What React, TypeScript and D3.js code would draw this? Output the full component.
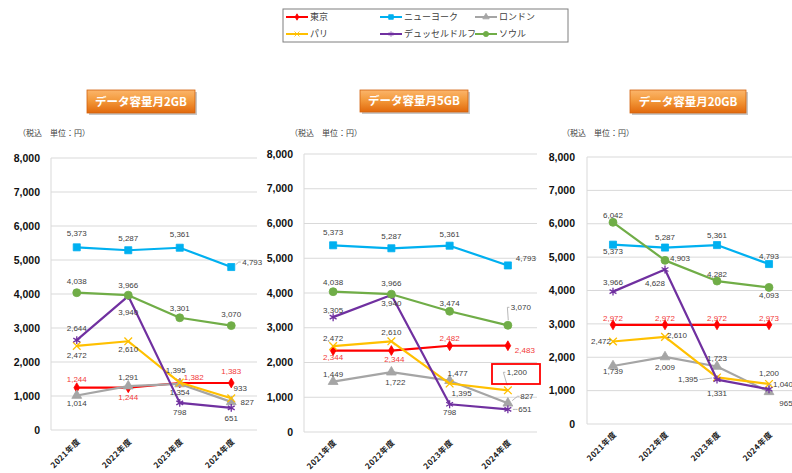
import React from 'react';
import * as d3 from 'd3';

const years = ['2021年度', '2022年度', '2023年度', '2024年度'];
const cities = ['東京', 'ニューヨーク', 'ロンドン', 'パリ', 'デュッセルドルフ', 'ソウル'];
const yTicks = [0, 1000, 2000, 3000, 4000, 5000, 6000, 7000, 8000];
const planTitles = ['データ容量月2GB', 'データ容量月5GB', 'データ容量月20GB'];

// rows follow the cities order
const values2GB = [
  [1244, 1244, 1382, 1383],
  [5373, 5287, 5361, 4793],
  [1014, 1291, 1354, 827],
  [2472, 2610, 1395, 933],
  [2644, 3940, 798, 651],
  [4038, 3966, 3301, 3070],
];
const values5GB = [
  [2344, 2344, 2482, 2483],
  [5373, 5287, 5361, 4793],
  [1449, 1722, 1477, 827],
  [2472, 2610, 1395, 1200],
  [3305, 3940, 798, 651],
  [4038, 3966, 3474, 3070],
];
const values20GB = [
  [2972, 2972, 2972, 2973],
  [5373, 5287, 5361, 4793],
  [1739, 2009, 1723, 965],
  [2472, 2610, 1395, 1200],
  [3966, 4628, 1331, 1040],
  [6042, 4903, 4282, 4093],
];

// series look
const colors = ['#FF0000', '#00B0F0', '#A5A5A5', '#FFC000', '#7030A0', '#70AD47'];
const symbols = [d3.symbolDiamond, d3.symbolSquare, d3.symbolTriangle, d3.symbolTimes, d3.symbolAsterisk, d3.symbolCircle];
const symbolSizes = [28, 50, 42, 40, 44, 50];
const strokeOnly = [false, false, false, true, true, false];

// label placement [dx, dy, leader]
type Off = [number, number, number?];
const labelPos2GB: Off[][] = [
  [[0, -9], [0, 9], [14, -6], [0, -12]],
  [[0, -14], [0, -12], [0, -14], [21, -5, 1]],
  [[0, 8], [0, -9], [0, 8], [16, 0]],
  [[0, 9], [0, 8], [-4, -12], [9, -10]],
  [[0, -12], [0, 16], [0, 9], [0, 10]],
  [[0, -12], [0, -10], [0, -10], [0, -11]],
];
const labelPos5GB: Off[][] = [
  [[0, 7], [3, 9], [0, -8], [17, 4]],
  [[0, -13], [0, -12], [0, -12], [18, -7]],
  [[0, -7], [4, 10], [8, -7], [19, -7, 1]],
  [[0, -8], [0, -9], [12, 10], [9, -18, 1]],
  [[0, -7], [0, 8], [0, 8], [17, 0, 1]],
  [[0, -9], [0, -11], [0, -8], [13, -18, 1]],
];
const labelPos20GB: Off[][] = [
  [[0, -7], [0, -7], [0, -7], [0, -7]],
  [[0, 7], [0, -10], [0, -10], [0, -8]],
  [[0, 5], [0, 10], [0, -8], [17, 11]],
  [[-12, 0], [12, -2], [-29, 2, 1], [0, -11]],
  [[0, -9], [-10, 14], [0, 14], [14, -5, 1]],
  [[0, -7], [15, -2], [0, -7], [0, 8]],
];

const panels = [
  { left: 51, right: 257, top: 158, bottom: 430, yLabelX: 40, title: [87, 90, 108, 23], unitsX: 18, xLabelY: 440, values: values2GB, pos: labelPos2GB },
  { left: 304, right: 537, top: 154, bottom: 432, yLabelX: 293, title: [360, 90, 108, 22], unitsX: 290, xLabelY: 441, values: values5GB, pos: labelPos5GB },
  { left: 587, right: 795, top: 157, bottom: 424, yLabelX: 575, title: [630, 90, 116, 23], unitsX: 562, xLabelY: 433, values: values20GB, pos: labelPos20GB },
];

const numFont = "'Liberation Sans', 'Noto Sans CJK JP', sans-serif";
const jpFont = "'Noto Sans CJK JP', sans-serif";
const fmt = d3.format(',');

function markerPath(i: number) {
  return d3.symbol().type(symbols[i]).size(symbolSizes[i])() || '';
}

function Marker({ i, x, y }: { i: number; x: number; y: number }) {
  return (
    <path
      d={markerPath(i)}
      transform={`translate(${x},${y})`}
      fill={strokeOnly[i] ? 'none' : colors[i]}
      stroke={colors[i]}
      strokeWidth={strokeOnly[i] ? 1.3 : 0.8}
    />
  );
}

function Panel({ p, idx }: { p: typeof panels[number]; idx: number }) {
  const x = d3.scaleBand().domain(years).range([p.left, p.right]);
  const y = d3.scaleLinear().domain([0, 8000]).range([p.bottom, p.top]);
  const cx = (d: string) => (x(d) || 0) + x.bandwidth() / 2;
  const line = d3.line<number>().x((_, j) => cx(years[j])).y((v) => y(v));
  const [tx, ty, tw, th] = p.title;

  return (
    <g>
      {/* title badge */}
      <rect x={tx + 2} y={ty + 2} width={tw} height={th} fill="#000" opacity={0.22} />
      <rect x={tx} y={ty} width={tw} height={th} fill="url(#badge)" stroke="#D2630F" strokeWidth={0.8} />
      <text x={tx + tw / 2} y={ty + th / 2} dy="0.36em" textAnchor="middle" fill="#fff" fontWeight="bold" fontSize={11.5} fontFamily={jpFont}>
        {planTitles[idx]}
      </text>
      <text x={p.unitsX} y={133} dy="0.35em" fontSize={8} fill="#404040" fontFamily={jpFont}>（税込　単位：円）</text>

      {/* grid */}
      {yTicks.map((t) => (
        <g key={t}>
          <line x1={p.left} x2={p.right} y1={y(t)} y2={y(t)} stroke="#D9D9D9" strokeWidth={1} />
          <text x={p.yLabelX} y={y(t)} dy="0.35em" textAnchor="end" fontSize={10.5} fontWeight="bold" fill="#111" fontFamily={numFont}>
            {fmt(t)}
          </text>
        </g>
      ))}
      <line x1={p.left} x2={p.left} y1={p.top} y2={p.bottom} stroke="#D9D9D9" strokeWidth={1} />

      {years.map((yr) => (
        <text
          key={yr}
          transform={`translate(${cx(yr) + 2},${p.xLabelY}) rotate(-45)`}
          textAnchor="end"
          dy="0.35em"
          fontSize={8}
          fontWeight="bold"
          letterSpacing={0.5}
          fill="#222"
          fontFamily={jpFont}
        >
          {yr}
        </text>
      ))}

      {/* series */}
      {p.values.map((vals, i) => (
        <g key={cities[i]}>
          <path d={line(vals) || ''} fill="none" stroke={colors[i]} strokeWidth={2.2} strokeLinejoin="round" />
          {vals.map((v, j) => (
            <Marker key={j} i={i} x={cx(years[j])} y={y(v)} />
          ))}
        </g>
      ))}

      {/* data labels */}
      {p.values.map((vals, i) =>
        vals.map((v, j) => {
          const [dx, dy, leader] = p.pos[i][j];
          const px = cx(years[j]);
          const py = y(v);
          const lx = px + dx;
          const ly = py + dy;
          const txt = fmt(v);
          const w = txt.length * 4.2;
          let lead = null;
          if (leader) {
            const ex = dx > 0 ? lx - w / 2 - 1 : lx + w / 2 + 1;
            const len = Math.hypot(ex - px, ly - py) || 1;
            const sx = px + ((ex - px) / len) * 5;
            const sy = py + ((ly - py) / len) * 5;
            lead = <polyline points={`${sx},${sy} ${ex - (dx > 0 ? 2 : -2)},${ly} ${ex},${ly}`} fill="none" stroke="#A6A6A6" strokeWidth={0.8} />;
          }
          return (
            <g key={`${i}-${j}`}>
              {lead}
              <text x={lx} y={ly} dy="0.35em" textAnchor="middle" fontSize={8} fill={i === 0 ? '#F23A3A' : '#404040'} fontFamily={numFont}>
                {txt}
              </text>
            </g>
          );
        })
      )}

      {/* highlight box on the 5GB chart */}
      {idx === 1 && <rect x={492} y={364} width={48} height={20} fill="none" stroke="#FF0000" strokeWidth={1.8} />}
    </g>
  );
}

function Legend() {
  const rows = [17, 34];
  const cols = [286, 380, 475];
  return (
    <g>
      <rect x={283} y={9} width={285} height={33} fill="#fff" stroke="#7F7F7F" strokeWidth={1} />
      {cities.map((c, i) => {
        const lx = cols[i % 3];
        const ly = rows[Math.floor(i / 3)];
        return (
          <g key={c}>
            <line x1={lx} x2={lx + 22} y1={ly} y2={ly} stroke={colors[i]} strokeWidth={2} />
            <g transform={`translate(${lx + 11},${ly}) scale(0.65)`}>
              <path d={markerPath(i)} fill={strokeOnly[i] ? 'none' : colors[i]} stroke={colors[i]} strokeWidth={1.3} />
            </g>
            <text x={lx + 24} y={ly} dy="0.35em" fontSize={9} fill="#404040" fontFamily={jpFont}>{c}</text>
          </g>
        );
      })}
    </g>
  );
}

export default function App() {
  return (
    <svg width={792} height={473} style={{ position: 'absolute', left: 0, top: 0, display: 'block', background: '#fff' }}>
      <defs>
        <linearGradient id="badge" x1="0" y1="0" x2="0" y2="1">
          <stop offset="0%" stopColor="#FBB56B" />
          <stop offset="45%" stopColor="#F39A3C" />
          <stop offset="100%" stopColor="#E2690C" />
        </linearGradient>
      </defs>
      <rect width={792} height={473} fill="#fff" />
      <Legend />
      {panels.map((p, i) => (
        <Panel key={i} p={p} idx={i} />
      ))}
    </svg>
  );
}
